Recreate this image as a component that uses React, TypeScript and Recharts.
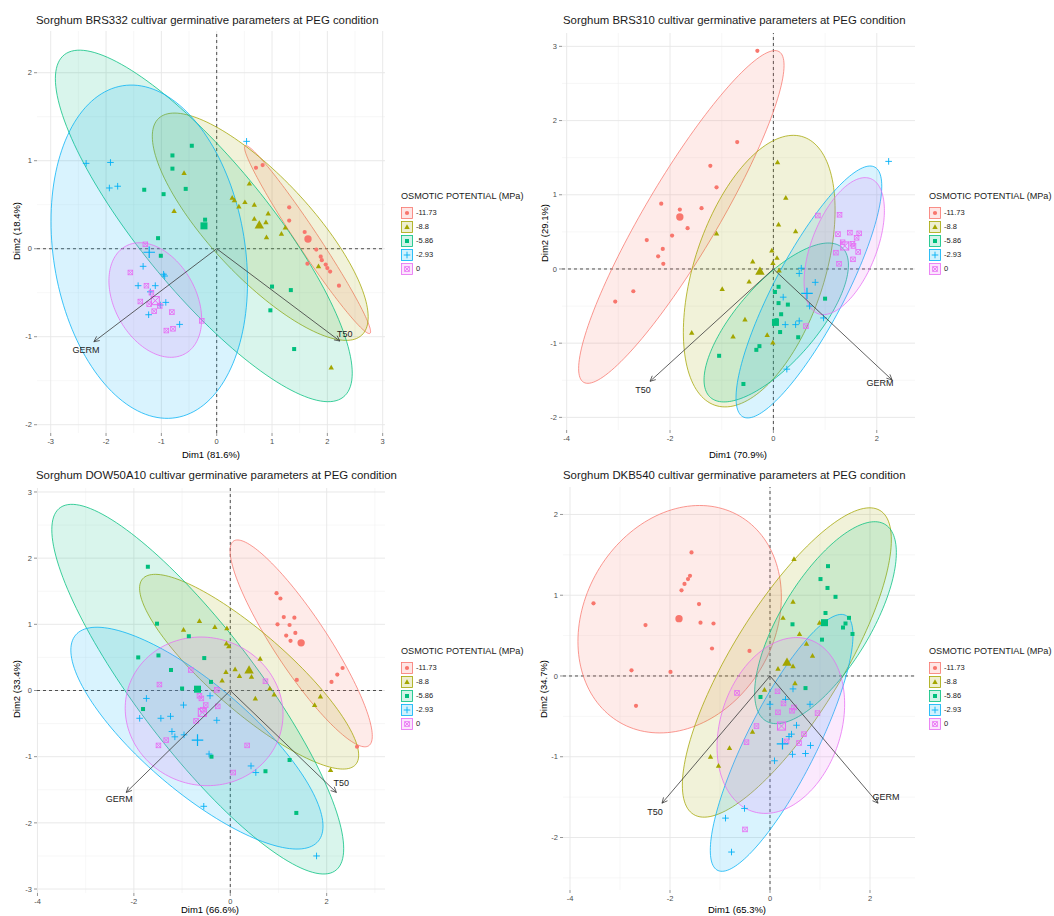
import React from 'react';
import { ScatterChart, Scatter, XAxis, YAxis, CartesianGrid, ReferenceLine } from 'recharts';

type Pt = [number, number];
type Ellipse = [Pt, Pt, Pt]; // centre, then two conjugate boundary points
type Loading = [string, number, number];

const FONT = '"Liberation Sans", Arial, Helvetica, sans-serif';

const potentialLevels = ['-11.73', '-8.8', '-5.86', '-2.93', '0'];
const levelColors = ['#F8766D', '#A3A500', '#00BF7D', '#00B0F6', '#E76BF3'];
const levelShapes = ['circle', 'triangle', 'square', 'plus', 'boxcross'];

// ---------- BRS332 ----------
const brs332_m1173: Pt[] = [[0.71, 0.92], [0.83, 0.95], [1.31, 0.47], [1.31, 0.32], [1.59, 0.19], [1.8, -0.01], [1.88, -0.09], [1.9, -0.13], [1.97, -0.18], [2.0, -0.22], [2.05, -0.26], [2.21, -0.42], [1.64, -0.17]];
const brs332_m88: Pt[] = [[-0.59, 0.86], [-0.77, 0.43], [0.28, 0.58], [0.32, 0.55], [0.4, 0.48], [0.51, 0.53], [0.59, 0.74], [0.68, 0.5], [0.68, 0.34], [0.89, 0.3], [0.93, 0.4], [0.9, 0.13], [1.17, 0.17], [1.24, 0.24], [1.84, -0.2], [2.07, -1.35]];
const brs332_m586: Pt[] = [[-0.45, 1.17], [-0.8, 1.06], [-0.8, 0.91], [-1.31, 0.67], [-0.96, 0.62], [-0.56, 0.68], [-0.21, 0.33], [-1.06, 0.12], [-1.01, -0.08], [1.0, -0.43], [1.34, -0.47], [0.97, -0.7], [1.4, -1.14]];
const brs332_m293: Pt[] = [[-2.36, 0.97], [-1.92, 0.98], [-1.94, 0.69], [-1.79, 0.71], [0.54, 1.22], [-1.33, -0.2], [-0.96, -0.29], [-0.94, -0.31], [-1.42, -0.42], [-1.11, -0.42], [-1.2, -0.49], [-0.92, -0.61], [-1.02, -0.64], [-1.23, -0.75], [-0.67, -0.86]];
const brs332_0: Pt[] = [[-1.29, 0.05], [-1.56, -0.27], [-1.27, -0.42], [-1.38, -0.6], [-1.22, -0.63], [-1.03, -0.65], [-1.13, -0.71], [-0.81, -0.72], [-0.91, -0.93], [-0.79, -0.91], [-0.27, -0.82], [-1.18, -0.5]];
const brs332Means: Pt[] = [[1.65, 0.11], [0.77, 0.27], [-0.23, 0.26], [-1.22, -0.04], [-1.11, -0.59]];
const brs332Ellipses: Ellipse[] = [
  [[1.642, 0.104], [2.77, -0.962], [1.804, 0.171]],
  [[0.787, 0.25], [2.622, -0.982], [1.45, 0.638]],
  [[-0.233, 0.259], [2.45, -1.414], [-0.233, 1.35]],
  [[-1.219, -0.034], [0.557, -0.379], [-1.219, 1.828]],
  [[-1.11, -0.583], [-0.272, -0.802], [-1.11, 0.03]],
];
const brs332Loadings: Loading[] = [['GERM', -2.22, -1.057], ['T50', 2.226, -1.049]];

// ---------- BRS310 ----------
const brs310_m1173: Pt[] = [[-0.31, 2.94], [-0.7, 1.71], [-1.22, 1.39], [-1.1, 1.1], [-2.17, 0.88], [-1.81, 0.8], [-1.39, 0.82], [-1.66, 0.55], [-2.45, 0.39], [-1.96, 0.45], [-2.14, 0.27], [-2.23, 0.17], [-2.13, 0.07], [-2.71, -0.3], [-3.06, -0.44]];
const brs310_m88: Pt[] = [[0.08, 1.44], [0.24, 0.96], [0.1, 0.6], [0.43, 0.51], [-1.1, 0.48], [-0.03, 0.25], [0.07, 0.15], [-0.4, 0.1], [-0.01, 0.08], [0.11, -0.02], [-0.47, -0.17], [-0.99, -0.27], [-1.58, -0.86], [-0.78, -0.91], [-0.55, -0.68], [-0.12, -0.89], [-0.01, -0.99]];
const brs310_m586: Pt[] = [[0.1, -0.24], [0.03, -0.31], [0.1, -0.46], [0.28, -0.48], [0.15, -0.61], [0.06, -0.69], [0.13, -0.85], [0.48, -0.92], [-0.27, -1.04], [-0.33, -1.09], [-0.58, -1.55], [1.0, -0.4], [-1.05, -1.17]];
const brs310_m293: Pt[] = [[2.23, 1.45], [0.54, 0.01], [0.5, -0.06], [0.81, -0.18], [0.19, -0.38], [0.7, -0.5], [0.97, -0.66], [0.23, -0.75], [0.43, -0.75], [0.5, -0.7], [0.26, -1.35]];
const brs310_0: Pt[] = [[0.86, 0.72], [1.28, 0.73], [1.25, 0.47], [1.48, 0.49], [1.66, 0.48], [1.61, 0.42], [1.34, 0.36], [1.53, 0.34], [1.55, 0.31], [1.21, 0.22], [1.64, 0.23], [1.54, 0.13], [1.27, 0.07], [0.63, -0.77]];
const brs310Means: Pt[] = [[-1.81, 0.7], [-0.26, -0.03], [0.04, -0.72], [0.65, -0.33], [1.38, 0.31]];
const brs310Ellipses: Ellipse[] = [
  [[-1.781, 0.701], [0.11, 2.929], [-1.17, 0.449]],
  [[-0.274, -0.029], [1.194, 0.795], [-0.274, 1.605]],
  [[0.055, -0.721], [1.452, 0.053], [0.055, 0.019]],
  [[0.687, -0.31], [2.097, 1.116], [0.687, 0.611]],
  [[1.371, 0.308], [2.148, 0.787], [1.371, 1.097]],
];
const brs310Loadings: Loading[] = [['T50', -2.387, -1.514], ['GERM', 2.297, -1.496]];

// ---------- DOW50A10 ----------
const dow50_m1173: Pt[] = [[0.96, 1.47], [1.04, 1.39], [1.11, 1.11], [1.33, 1.1], [0.98, 1.0], [1.23, 0.99], [1.16, 0.83], [1.35, 0.87], [1.25, 0.75], [2.33, 0.34], [2.22, 0.24], [1.38, 0.16], [2.1, 0.13], [2.63, -0.85]];
const dow50_m88: Pt[] = [[-0.64, 1.05], [-0.32, 0.96], [-0.07, 0.94], [-0.97, 0.92], [-0.08, 0.71], [-0.03, 0.67], [0.62, 0.48], [0.1, 0.32], [-0.09, 0.28], [0.19, 0.22], [0.44, 0.21], [-0.17, 0.15], [0.82, 0.03], [0.91, -0.06], [0.52, -0.12], [1.87, -0.09], [1.75, -0.22], [2.08, -1.2]];
const dow50_m586: Pt[] = [[-1.71, 1.87], [-1.52, 1.01], [-0.86, 0.82], [-1.91, 0.5], [-1.49, 0.53], [-0.54, 0.49], [-1.23, 0.31], [-0.4, 0.13], [-1.0, 0.03], [-1.81, -0.28], [-0.39, -1.0], [1.23, -1.05], [0.73, -1.22], [1.37, -1.85]];
const dow50_m293: Pt[] = [[-1.74, -0.12], [-1.88, -0.42], [-1.44, -0.42], [-1.24, -0.39], [-0.97, -0.22], [-0.42, -0.08], [-0.28, -0.45], [-1.21, -0.62], [-1.15, -0.7], [-0.96, -0.67], [-0.44, -0.96], [0.43, -1.14], [0.53, -1.24], [-0.55, -1.75], [1.79, -2.5]];
const dow50_0: Pt[] = [[-0.82, 0.31], [-1.47, 0.09], [0.73, 0.14], [-0.28, 0.01], [-0.64, -0.08], [-0.6, -0.12], [-0.51, -0.22], [-0.26, -0.24], [-0.57, -0.29], [-0.71, -0.46], [-1.33, -0.75], [-1.49, -0.83], [0.35, -0.83], [0.06, -1.24]];
const dow50Means: Pt[] = [[1.47, 0.72], [0.39, 0.31], [-0.68, 0.02], [-0.68, -0.75], [-0.58, -0.33]];
const dow50Ellipses: Ellipse[] = [
  [[1.471, 0.712], [2.872, -0.835], [1.933, 0.934]],
  [[0.391, 0.284], [2.664, -0.977], [0.391, 1.042]],
  [[-0.675, 0.02], [2.353, -2.39], [-0.675, 1.432]],
  [[-0.692, -0.72], [1.924, -2.05], [-0.692, 0.3]],
  [[-0.543, -0.315], [1.094, -0.362], [-0.543, 0.807]],
];
const dow50Loadings: Loading[] = [['GERM', -2.159, -1.54], ['T50', 2.201, -1.54]];

// ---------- DKB540 ----------
const dkb540_m1173: Pt[] = [[-1.57, 1.53], [-1.6, 1.24], [-1.64, 1.2], [-1.71, 1.14], [-1.77, 1.06], [-3.53, 0.9], [-1.42, 0.89], [-1.39, 0.66], [-1.13, 0.65], [-2.49, 0.63], [-1.16, 0.34], [-0.41, 0.31], [-2.77, 0.07], [-1.99, 0.05], [-2.68, -0.37]];
const dkb540_m88: Pt[] = [[0.48, 1.45], [0.46, 0.92], [0.26, 0.72], [0.59, 0.52], [0.73, 0.4], [0.85, 0.25], [0.46, 0.12], [0.16, 0.09], [0.5, -0.09], [-0.11, -0.17], [0.99, 0.66], [-0.35, -0.69], [-0.81, -0.89], [-1.19, -1.0], [-1.03, -1.11]];
const dkb540_m586: Pt[] = [[1.16, 1.36], [1.01, 1.2], [1.15, 1.09], [1.31, 0.98], [1.11, 0.78], [1.58, 0.72], [0.45, 0.64], [1.51, 0.65], [1.46, 0.6], [1.65, 0.52], [1.04, 0.45], [0.71, -0.15], [-0.19, -0.26]];
const dkb540_m293: Pt[] = [[0.46, -0.16], [0.31, -0.29], [0.0, -0.35], [0.8, -0.35], [0.53, -0.61], [0.43, -0.72], [0.38, -0.75], [0.81, -0.86], [0.45, -0.97], [0.71, -0.96], [0.09, -1.05], [-0.51, -1.64], [-0.89, -1.76], [-0.77, -2.18]];
const dkb540_0: Pt[] = [[-0.66, -0.21], [0.15, -0.19], [0.27, -0.34], [0.48, -0.39], [0.44, -0.43], [0.16, -0.45], [0.95, -0.46], [-0.27, -0.62], [0.68, -0.72], [-0.47, -0.82], [0.58, -0.83], [0.33, -0.81], [-0.5, -1.9]];
const dkb540Means: Pt[] = [[-1.82, 0.71], [0.34, 0.17], [1.09, 0.66], [0.25, -0.84], [0.23, -0.62]];
const dkb540Ellipses: Ellipse[] = [
  [[-1.807, 0.703], [0.227, 0.978], [-1.807, 2.084]],
  [[0.337, 0.167], [2.427, 1.685], [0.337, 1.335]],
  [[1.11, 0.66], [2.527, 1.528], [1.11, 1.56]],
  [[0.233, -0.828], [1.66, 0.503], [0.233, 0.043]],
  [[0.217, -0.613], [1.493, -0.348], [0.217, 0.443]],
];
const dkb540Loadings: Loading[] = [['T50', -2.16, -1.575], ['GERM', 2.16, -1.575]];

const AXIS_W = 20;
const AXIS_H = 15;

type Layout = {
  box: { left: number; top: number; width: number; height: number };
  plot: { left: number; top: number; right: number; bottom: number };
  title: [number, number];
  xTitle: [number, number];
  yTitle: [number, number];
  legend: [number, number];
  labelOffsets: [number, number][];
};

type PanelSpec = {
  title: string;
  xLabel: string;
  yLabel: string;
  groups: Pt[][];
  means: Pt[];
  ellipses: Ellipse[];
  loadings: Loading[];
  xDomain: [number, number];
  yDomain: [number, number];
  xTicks: number[];
  yTicks: number[];
  layout: Layout;
};

const panels: PanelSpec[] = [
  {
    title: 'Sorghum BRS332 cultivar germinative parameters at PEG condition',
    xLabel: 'Dim1 (81.6%)',
    yLabel: 'Dim2 (18.4%)',
    groups: [brs332_m1173, brs332_m88, brs332_m586, brs332_m293, brs332_0],
    means: brs332Means,
    ellipses: brs332Ellipses,
    loadings: brs332Loadings,
    xDomain: [-3.248, 3.042],
    yDomain: [-2.094, 2.474],
    xTicks: [-3, -2, -1, 0, 1, 2, 3],
    yTicks: [-2, -1, 0, 1, 2],
    layout: {
      box: { left: 0, top: 0, width: 400, height: 460 },
      plot: { left: 37, top: 31, right: 385, bottom: 433 },
      title: [36, 21],
      xTitle: [211, 455],
      yTitle: [17, 231],
      legend: [401, 197],
      labelOffsets: [[-8, 8], [5, -7]],
    },
  },
  {
    title: 'Sorghum BRS310 cultivar germinative parameters at PEG condition',
    xLabel: 'Dim1 (70.9%)',
    yLabel: 'Dim2 (29.1%)',
    groups: [brs310_m1173, brs310_m88, brs310_m586, brs310_m293, brs310_0],
    means: brs310Means,
    ellipses: brs310Ellipses,
    loadings: brs310Loadings,
    xDomain: [-4.09, 2.74],
    yDomain: [-2.17, 3.18],
    xTicks: [-4, -2, 0, 2],
    yTicks: [-2, -1, 0, 1, 2, 3],
    layout: {
      box: { left: 520, top: 0, width: 400, height: 460 },
      plot: { left: 562, top: 33, right: 915, bottom: 430 },
      title: [563, 21],
      xTitle: [738, 455],
      yTitle: [545, 233],
      legend: [929, 197],
      labelOffsets: [[-7, 9], [-12, 3]],
    },
  },
  {
    title: 'Sorghum DOW50A10 cultivar germinative parameters at PEG condition',
    xLabel: 'Dim1 (66.6%)',
    yLabel: 'Dim2 (33.4%)',
    groups: [dow50_m1173, dow50_m88, dow50_m586, dow50_m293, dow50_0],
    means: dow50Means,
    ellipses: dow50Ellipses,
    loadings: dow50Loadings,
    xDomain: [-4.01, 3.21],
    yDomain: [-3.06, 3.06],
    xTicks: [-4, -2, 0, 2],
    yTicks: [-3, -2, -1, 0, 1, 2, 3],
    layout: {
      box: { left: 0, top: 460, width: 400, height: 456 },
      plot: { left: 37, top: 488, right: 385, bottom: 893 },
      title: [36, 476],
      xTitle: [210, 910],
      yTitle: [17, 689],
      legend: [401, 651.5],
      labelOffsets: [[-7, 7], [5, -9]],
    },
  },
  {
    title: 'Sorghum DKB540 cultivar germinative parameters at PEG condition',
    xLabel: 'Dim1 (65.3%)',
    yLabel: 'Dim2 (34.7%)',
    groups: [dkb540_m1173, dkb540_m88, dkb540_m586, dkb540_m293, dkb540_0],
    means: dkb540Means,
    ellipses: dkb540Ellipses,
    loadings: dkb540Loadings,
    xDomain: [-4.14, 2.9],
    yDomain: [-2.65, 2.34],
    xTicks: [-4, -2, 0, 2],
    yTicks: [-2, -1, 0, 1, 2],
    layout: {
      box: { left: 520, top: 460, width: 400, height: 456 },
      plot: { left: 563, top: 487, right: 915, bottom: 890 },
      title: [563, 476],
      xTitle: [737, 910],
      yTitle: [544, 689],
      legend: [929, 651.5],
      labelOffsets: [[-7, 9], [8, -6]],
    },
  },
];

const toXY = (pts: Pt[]) => pts.map(([x, y]) => ({ x, y }));

// minor grid values sit half-way between major ticks
const minorValues = (ticks: number[], domain: [number, number]) => {
  const step = ticks[1] - ticks[0];
  const out: number[] = [];
  for (let i = -1; i < ticks.length; i++) {
    const v = (i < 0 ? ticks[0] : ticks[i]) + (i < 0 ? -step / 2 : step / 2);
    if (v > domain[0] && v < domain[1]) out.push(v);
  }
  return out;
};

function Marker({ cx, cy, shape, color, big }: any) {
  if (cx == null || cy == null) return <g />;
  const s = big ? 1.75 : 1;
  switch (shape) {
    case 'circle':
      return <circle cx={cx} cy={cy} r={2.1 * s} fill={color} />;
    case 'triangle': {
      const h = 2.7 * s;
      return <polygon points={`${cx},${cy - h} ${cx - h},${cy + h * 0.75} ${cx + h},${cy + h * 0.75}`} fill={color} />;
    }
    case 'square': {
      const h = 2.0 * s;
      return <rect x={cx - h} y={cy - h} width={2 * h} height={2 * h} fill={color} />;
    }
    case 'plus': {
      const h = 3.3 * s;
      return <path d={`M${cx - h},${cy}H${cx + h}M${cx},${cy - h}V${cy + h}`} stroke={color} strokeWidth={big ? 1.2 : 0.9} fill="none" />;
    }
    default: {
      const h = 2.3 * s;
      return (
        <g stroke={color} strokeWidth={big ? 1 : 0.8} fill="none">
          <rect x={cx - h} y={cy - h} width={2 * h} height={2 * h} />
          <path d={`M${cx - h},${cy - h}L${cx + h},${cy + h}M${cx + h},${cy - h}L${cx - h},${cy + h}`} />
        </g>
      );
    }
  }
}

const noSymbol = () => <g />;

// confidence ellipse through its centre and two conjugate semi-diameters (pixel space)
const ellipseLine = (color: string) => (lp: any) => {
  const pts = lp && lp.points;
  if (!pts || pts.length < 3) return <g />;
  const [c, a, b] = pts;
  const ux = a.x - c.x, uy = a.y - c.y, vx = b.x - c.x, vy = b.y - c.y;
  let d = '';
  const n = 160;
  for (let k = 0; k <= n; k++) {
    const t = (k / n) * Math.PI * 2;
    const x = c.x + ux * Math.cos(t) + vx * Math.sin(t);
    const y = c.y + uy * Math.cos(t) + vy * Math.sin(t);
    d += `${k === 0 ? 'M' : 'L'}${x.toFixed(2)},${y.toFixed(2)}`;
  }
  d += 'Z';
  return <path d={d} fill={color} fillOpacity={0.15} stroke={color} strokeOpacity={0.95} strokeWidth={0.8} />;
};

// variable loading arrow from the origin with an open head and its name
const arrowLine = (name: string, off: [number, number]) => (lp: any) => {
  const pts = lp && lp.points;
  if (!pts || pts.length < 2) return <g />;
  const [o, t] = pts;
  const ang = Math.atan2(t.y - o.y, t.x - o.x);
  const L = 6, spread = Math.PI / 7;
  const h1x = t.x - L * Math.cos(ang - spread), h1y = t.y - L * Math.sin(ang - spread);
  const h2x = t.x - L * Math.cos(ang + spread), h2y = t.y - L * Math.sin(ang + spread);
  return (
    <g>
      <line x1={o.x} y1={o.y} x2={t.x} y2={t.y} stroke="#3a3a3a" strokeWidth={0.8} />
      <path d={`M${h1x},${h1y}L${t.x},${t.y}L${h2x},${h2y}`} stroke="#3a3a3a" strokeWidth={0.8} fill="none" />
      <text x={t.x + off[0]} y={t.y + off[1]} textAnchor="middle" dominantBaseline="central" fontSize={9} fontFamily={FONT} fill="#222">
        {name}
      </text>
    </g>
  );
};

function TextAt({ x, y, children, size, color = '#000', anchor = 'start', rotate = false }: any) {
  const tx = anchor === 'middle' ? '-50%' : anchor === 'end' ? '-100%' : '0';
  return (
    <div
      style={{
        position: 'absolute',
        left: x,
        top: y,
        transform: `translate(${tx},-50%)${rotate ? ' rotate(-90deg)' : ''}`,
        fontSize: size,
        color,
        fontFamily: FONT,
        whiteSpace: 'nowrap',
        lineHeight: 1,
      }}
    >
      {children}
    </div>
  );
}

function LegendKey({ i }: { i: number }) {
  const color = levelColors[i];
  return (
    <svg width={12} height={12} style={{ position: 'absolute', left: 0, top: -6 }}>
      <rect x={0.5} y={0.5} width={11} height={11} fill={color} fillOpacity={0.18} stroke={color} strokeWidth={0.8} />
      <Marker cx={6} cy={6} shape={levelShapes[i]} color={color} big={false} />
    </svg>
  );
}

function PotentialLegend({ x, y }: { x: number; y: number }) {
  return (
    <div style={{ position: 'absolute', left: x, top: y }}>
      <TextAt x={0} y={0} size={9.1} color="#1a1a1a">OSMOTIC POTENTIAL (MPa)</TextAt>
      {potentialLevels.map((lv, i) => (
        <div key={lv} style={{ position: 'absolute', left: 0, top: 16 + 14 * i }}>
          <LegendKey i={i} />
          <TextAt x={15} y={0} size={7.5} color="#1a1a1a">{lv}</TextAt>
        </div>
      ))}
    </div>
  );
}

const tickStyle = { fontSize: 7.5, fill: '#4D4D4D', fontFamily: FONT };

function PcaPanel({ p }: { p: PanelSpec }) {
  const { box, plot } = p.layout;
  const margin = {
    top: plot.top - box.top,
    right: box.left + box.width - plot.right,
    bottom: box.top + box.height - plot.bottom - AXIS_H,
    left: plot.left - box.left - AXIS_W,
  };
  return (
    <>
      <div style={{ position: 'absolute', left: box.left, top: box.top }}>
        <ScatterChart width={box.width} height={box.height} margin={margin}>
          <CartesianGrid
            stroke="#F1F1F1"
            strokeWidth={0.6}
            verticalValues={minorValues(p.xTicks, p.xDomain)}
            horizontalValues={minorValues(p.yTicks, p.yDomain)}
          />
          <CartesianGrid stroke="#E6E6E6" strokeWidth={0.9} verticalValues={p.xTicks} horizontalValues={p.yTicks} />
          <XAxis
            type="number"
            dataKey="x"
            domain={p.xDomain}
            ticks={p.xTicks}
            interval={0}
            allowDataOverflow
            height={AXIS_H}
            axisLine={false}
            tickSize={3}
            tickMargin={3}
            tickLine={{ stroke: '#4D4D4D', strokeWidth: 0.6 }}
            tick={tickStyle}
          />
          <YAxis
            type="number"
            dataKey="y"
            domain={p.yDomain}
            ticks={p.yTicks}
            interval={0}
            allowDataOverflow
            width={AXIS_W}
            axisLine={false}
            tickSize={3}
            tickMargin={2}
            tickLine={{ stroke: '#4D4D4D', strokeWidth: 0.6 }}
            tick={tickStyle}
          />
          <ReferenceLine x={0} stroke="#3c3c3c" strokeDasharray="3 3" strokeWidth={0.9} />
          <ReferenceLine y={0} stroke="#3c3c3c" strokeDasharray="3 3" strokeWidth={0.9} />
          {p.ellipses.map((el, i) => (
            <Scatter
              key={`ell-${i}`}
              data={toXY(el)}
              shape={noSymbol}
              line={ellipseLine(levelColors[i])}
              isAnimationActive={false}
              legendType="none"
            />
          ))}
          {p.groups.map((g, i) => (
            <Scatter
              key={`pts-${i}`}
              data={toXY(g)}
              shape={(sp: any) => <Marker cx={sp.cx} cy={sp.cy} shape={levelShapes[i]} color={levelColors[i]} big={false} />}
              isAnimationActive={false}
            />
          ))}
          {p.means.map((m, i) => (
            <Scatter
              key={`mean-${i}`}
              data={toXY([m])}
              shape={(sp: any) => <Marker cx={sp.cx} cy={sp.cy} shape={levelShapes[i]} color={levelColors[i]} big />}
              isAnimationActive={false}
            />
          ))}
          {p.loadings.map(([name, x, y], i) => (
            <Scatter
              key={`load-${name}`}
              data={[{ x: 0, y: 0 }, { x, y }]}
              shape={noSymbol}
              line={arrowLine(name, p.layout.labelOffsets[i])}
              isAnimationActive={false}
              legendType="none"
            />
          ))}
        </ScatterChart>
      </div>
      <TextAt x={p.layout.title[0]} y={p.layout.title[1]} size={11.4} color="#1a1a1a">{p.title}</TextAt>
      <TextAt x={p.layout.xTitle[0]} y={p.layout.xTitle[1]} size={9.5} anchor="middle">{p.xLabel}</TextAt>
      <TextAt x={p.layout.yTitle[0]} y={p.layout.yTitle[1]} size={9.5} anchor="middle" rotate>{p.yLabel}</TextAt>
      <PotentialLegend x={p.layout.legend[0]} y={p.layout.legend[1]} />
    </>
  );
}

export default function App() {
  return (
    <div style={{ position: 'absolute', left: 0, top: 0, width: 1054, height: 916, background: '#fff', overflow: 'hidden' }}>
      {panels.map((p) => (
        <PcaPanel key={p.title} p={p} />
      ))}
    </div>
  );
}
